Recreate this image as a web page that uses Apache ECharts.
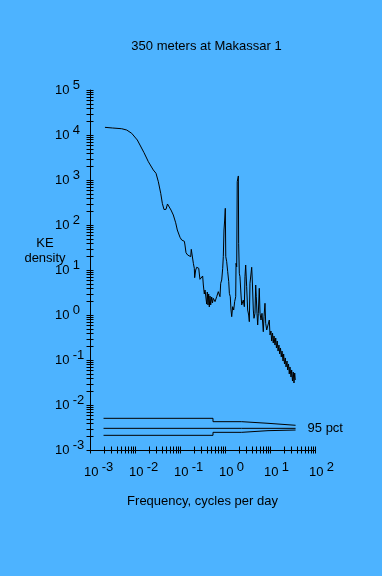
<!DOCTYPE html>
<html>
<head>
<meta charset="utf-8">
<script src="https://cdn.jsdelivr.net/npm/echarts@6/dist/echarts.min.js"></script>
<style>
html,body{margin:0;padding:0;background:#4db3ff;}
#c{width:382px;height:576px;}
</style>
</head>
<body>
<div id="c"></div>
<script>
// Spectrum: frequency (cycles per day) and KE density
const freq = [0.00215,0.00319,0.00506,0.00654,0.00845,0.01125,0.0129,0.01585,0.0198,0.0255,
0.0293,0.033,0.0373,0.0405,0.0441,0.0489,0.0527,0.057,0.0631,0.071,
0.0802,0.0871,0.1,0.109,0.125,0.129,0.136,0.148,0.173,0.178,
0.188,0.198,0.208,0.212,0.223,0.235,0.261,0.269,0.278,0.303,
0.319,0.33,0.347,0.36,0.378,0.392,0.404,0.419,0.434,0.448,
0.464,0.481,0.506,0.527,0.549,0.6,0.654,0.71,0.774,0.802,
0.845,0.889,0.917,0.95,0.984,1.016,1.04,1.09,1.148,1.21,
1.25,1.31,1.36,1.41,1.48,1.56,1.64,1.73,1.76,1.82,
1.87,1.98,2.01,2.08,2.15,2.27,2.35,2.47,2.55,2.69,
2.78,2.88,3.03,3.19,3.36,3.47,3.59,3.78,3.92,4.04,
4.26,4.41,4.64,4.81,4.96,5.14,5.33,5.5,5.78,6.0,
6.31,6.64,6.88,7.1,7.36,7.74,8.02,8.45,9.16,9.64,
10,10.5,10.9,11.4,11.8,12.3,12.9,13.4,13.9,14.5,
15.1,15.8,16.4,17.1,17.8,18.5,19.5,20.1,21.0,21.9,
22.7,23.9,24.7,25.8,26.8,27.8,29.3,30.3,31.6,32.9,
34.1,35.4,36.5];
const ke = [14800,14300,13800,12900,10900,7740,5990,4050,2550,1670,
1410,917,506,303,221,223,293,274,215,167,
112,77.4,53.3,46.4,43.4,35.9,24.2,21.5,19.8,28.8,
26.8,14.1,10.9,6.74,10,11.5,10.9,8.15,6.21,5.78,
7.36,4.64,2.93,3.59,3.42,1.75,3.24,1.67,2.93,1.51,
2.64,1.67,2.51,1.85,2.35,1.98,2.55,3.3,2.55,5.06,
6.0,10.9,19.8,77.4,129,235,19.8,15.3,9.18,5.5,
3.03,2.55,1.29,0.917,1.53,1.29,1.98,2.55,14.1,11.8,
917,1230,39.1,8.45,7.1,2.78,1.67,1.53,2.15,1.53,
7.1,12.9,4.26,1.29,1.0,0.71,5.06,5.5,11.5,6.0,
1.29,0.845,1.09,4.64,2.55,1.09,0.6,1.09,3.92,1.09,
0.774,1.09,1.0,0.425,0.917,1.82,0.654,0.464,0.506,0.774,
0.36,0.441,0.264,0.398,0.239,0.341,0.215,0.308,0.185,0.264,
0.158,0.215,0.136,0.185,0.117,0.158,0.095,0.136,0.0815,0.111,
0.0699,0.095,0.06,0.0815,0.0489,0.0699,0.0419,0.06,0.0341,0.0541,
0.0308,0.0514,0.036];

// 95 pct confidence band (step edges in frequency)
const ciEdges = [0.002, 0.541, 2.35, 9.03, 37];
const ciUpper = [0.00506, 0.00426, 0.00392, 0.00354];
const ciMid = [0.00303, 0.00303, 0.00303, 0.00303];
const ciLower = [0.00212, 0.00247, 0.00269, 0.00278];
const ciLabel = '95 pct';

// Axis ranges / tick decades
const xDecades = [-3, -2, -1, 0, 1];
const yDecades = [-3, -2, -1, 0, 1, 2, 3, 4];
const mult = [1, 2, 3, 4, 5, 6, 7, 8, 9];
const xMin = 1e-3, xMax = 1e2, yMin = 1e-3, yMax = 1e5;

const titleText = '350 meters at Makassar 1';
const xName = 'Frequency, cycles per day';
const yName = 'KE\ndensity';

function stepData(vals) {
  const out = [];
  vals.forEach((v, i) => { out.push([ciEdges[i], v]); out.push([ciEdges[i + 1], v]); });
  return out;
}
const xTicks = [];
xDecades.forEach(d => mult.forEach(m => xTicks.push(m * Math.pow(10, d))));
xTicks.push(xMax);
const yTicks = [];
yDecades.forEach(d => mult.forEach(m => yTicks.push(m * Math.pow(10, d))));
yTicks.push(yMax);

const FONT = 'Liberation Sans, Arial, sans-serif';
function powLabel(v) {
  const e = Math.round(Math.log10(v));
  return '{b|10} {e|' + (e < 0 ? '-' + (-e) : e) + '}';
}
const rich = {
  b: { fontSize: 13, fontFamily: FONT, color: '#000', lineHeight: 18, verticalAlign: 'bottom' },
  e: { fontSize: 13, fontFamily: FONT, color: '#000', lineHeight: 14, verticalAlign: 'top' }
};

const chart = echarts.init(document.getElementById('c'), null, { renderer: 'canvas' });
chart.setOption({
  backgroundColor: '#4db3ff',
  animation: false,
  title: [
    { text: titleText, left: 201.5, top: 34, textAlign: 'center',
      textStyle: { fontSize: 13, fontWeight: 'normal', fontFamily: FONT, color: '#000', lineHeight: 15 } },
    { text: yName, left: 40, top: 231, textAlign: 'center',
      textStyle: { fontSize: 13, fontWeight: 'normal', fontFamily: FONT, color: '#000', lineHeight: 15, align: 'center' } }
  ],
  grid: { left: 90, right: 67, top: 90, bottom: 126, containLabel: false },
  xAxis: {
    type: 'log', logBase: 10, min: xMin, max: xMax, splitNumber: 5,
    name: xName, nameLocation: 'middle', nameGap: 45,
    nameTextStyle: { fontSize: 13, fontFamily: FONT, color: '#000' },
    axisLine: { show: true, lineStyle: { color: '#000', width: 1 } },
    axisTick: { show: false }, splitLine: { show: false }, minorTick: { show: false },
    axisLabel: { show: true, margin: 11, align: 'left', verticalAlign: 'top', padding: [0, 0, 0, -6],
      formatter: powLabel, rich: rich, showMinLabel: true, showMaxLabel: true }
  },
  yAxis: {
    type: 'log', logBase: 10, min: yMin, max: yMax, splitNumber: 8,
    axisLine: { show: true, lineStyle: { color: '#000', width: 1 } },
    axisTick: { show: false }, splitLine: { show: false },
    axisLabel: { show: true, margin: 35, align: 'left', verticalAlign: 'middle', padding: [0, 0, 5, 0],
      formatter: powLabel, rich: rich, showMinLabel: true, showMaxLabel: true }
  },
  series: [
    { type: 'line', data: freq.map((f, i) => [f, ke[i]]), symbol: 'none', silent: true,
      lineStyle: { color: '#000', width: 1 } },
    { type: 'line', data: stepData(ciUpper), symbol: 'none', silent: true, lineStyle: { color: '#000', width: 1 } },
    { type: 'line', data: stepData(ciMid), symbol: 'none', silent: true, lineStyle: { color: '#000', width: 1 },
      endLabel: { show: true, formatter: ciLabel, distance: 12, fontSize: 13, fontFamily: FONT, color: '#000' } },
    { type: 'line', data: stepData(ciLower), symbol: 'none', silent: true, lineStyle: { color: '#000', width: 1 } },
    { type: 'custom', clip: false, silent: true, data: yTicks.map(v => [xMin, v]),
      renderItem: function (params, api) {
        const p = api.coord([api.value(0), api.value(1)]);
        const x = Math.round(p[0]), y = Math.round(p[1]) + 0.5;
        return { type: 'line', shape: { x1: x - 3.5, y1: y, x2: x + 3.5, y2: y }, style: { stroke: '#000', lineWidth: 1 } };
      } },
    { type: 'custom', clip: false, silent: true, data: xTicks.map(v => [v, yMin]),
      renderItem: function (params, api) {
        const p = api.coord([api.value(0), api.value(1)]);
        const x = Math.round(p[0]) + 0.5, y = Math.round(p[1]);
        return { type: 'line', shape: { x1: x, y1: y - 3.5, x2: x, y2: y + 3.5 }, style: { stroke: '#000', lineWidth: 1 } };
      } }
  ]
});
</script>
</body>
</html>
